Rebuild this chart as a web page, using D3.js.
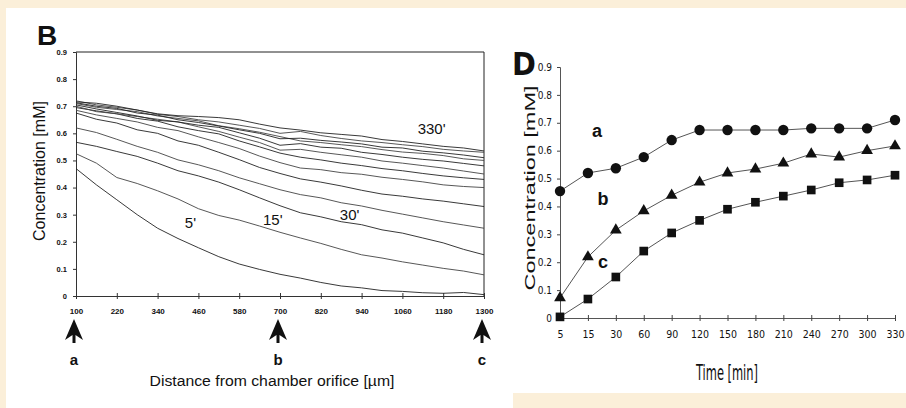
<!DOCTYPE html>
<html>
<head>
<meta charset="utf-8">
<script src="https://cdn.jsdelivr.net/npm/d3@7"></script>
<style>
  body { margin: 0; background: #fbefd9; }
  svg { display: block; }
  text { font-family: 'Liberation Sans', Arial, sans-serif; fill: #111; }
  text.narrow { font-family: 'Liberation Sans Narrow', 'DejaVu Sans Condensed', sans-serif; }
</style>
</head>
<body>
<div id="chart"></div>
<script>
// ---- panel B: concentration profiles along the chamber ----
let distances = [100, 160, 220, 280, 340, 400, 460, 520, 580, 640, 700,
  760, 820, 880, 940, 1000, 1060, 1120, 1180, 1240, 1300]
let distTicks = [100, 220, 340, 460, 580, 700, 820, 940, 1060, 1180, 1300]
let concTicks = [0, 0.1, 0.2, 0.3, 0.4, 0.5, 0.6, 0.7, 0.8, 0.9]

let profile5 = [0.47, 0.41, 0.355, 0.30, 0.25, 0.212, 0.178, 0.145, 0.118, 0.098, 0.08, 0.066, 0.05, 0.037, 0.03, 0.02, 0.017, 0.012, 0.01, 0.013, 0.005]
let profile15 = [0.525, 0.49, 0.437, 0.415, 0.388, 0.358, 0.322, 0.297, 0.28, 0.258, 0.235, 0.214, 0.194, 0.172, 0.152, 0.14, 0.126, 0.114, 0.102, 0.092, 0.078]
let profile30 = [0.567, 0.552, 0.533, 0.515, 0.49, 0.462, 0.443, 0.42, 0.392, 0.362, 0.333, 0.307, 0.292, 0.274, 0.263, 0.244, 0.232, 0.214, 0.196, 0.172, 0.152]
let profile60 = [0.62, 0.603, 0.578, 0.552, 0.53, 0.502, 0.484, 0.462, 0.436, 0.414, 0.392, 0.374, 0.362, 0.344, 0.332, 0.316, 0.302, 0.288, 0.274, 0.262, 0.25]
let profile90 = [0.675, 0.652, 0.638, 0.613, 0.6, 0.572, 0.556, 0.53, 0.503, 0.474, 0.452, 0.432, 0.42, 0.406, 0.39, 0.376, 0.368, 0.358, 0.35, 0.34, 0.33]
let profile120 = [0.685, 0.668, 0.655, 0.642, 0.622, 0.61, 0.587, 0.566, 0.544, 0.516, 0.492, 0.472, 0.466, 0.455, 0.449, 0.438, 0.43, 0.421, 0.41, 0.404, 0.40]
let profile150 = [0.695, 0.683, 0.672, 0.655, 0.645, 0.624, 0.61, 0.598, 0.572, 0.55, 0.527, 0.512, 0.502, 0.49, 0.481, 0.47, 0.462, 0.452, 0.443, 0.436, 0.43]
let profile180 = [0.70, 0.68, 0.672, 0.662, 0.652, 0.642, 0.624, 0.607, 0.586, 0.566, 0.538, 0.541, 0.53, 0.521, 0.512, 0.498, 0.49, 0.481, 0.472, 0.461, 0.45]
let profile210 = [0.705, 0.69, 0.677, 0.664, 0.648, 0.642, 0.63, 0.622, 0.602, 0.582, 0.556, 0.562, 0.549, 0.545, 0.53, 0.522, 0.512, 0.504, 0.498, 0.489, 0.48]
let profile240 = [0.71, 0.696, 0.688, 0.68, 0.664, 0.655, 0.646, 0.628, 0.617, 0.604, 0.588, 0.572, 0.566, 0.558, 0.551, 0.54, 0.531, 0.526, 0.518, 0.506, 0.50]
let profile270 = [0.713, 0.70, 0.692, 0.675, 0.667, 0.65, 0.64, 0.627, 0.613, 0.60, 0.58, 0.582, 0.574, 0.568, 0.561, 0.549, 0.546, 0.534, 0.528, 0.52, 0.51]
let profile300 = [0.72, 0.705, 0.696, 0.686, 0.67, 0.662, 0.65, 0.642, 0.63, 0.618, 0.60, 0.607, 0.592, 0.581, 0.572, 0.566, 0.558, 0.551, 0.541, 0.535, 0.53]
let profile330 = [0.716, 0.711, 0.70, 0.686, 0.672, 0.665, 0.662, 0.658, 0.65, 0.634, 0.62, 0.612, 0.602, 0.596, 0.59, 0.577, 0.57, 0.561, 0.552, 0.546, 0.535]

let profiles = [profile5, profile15, profile30, profile60, profile90, profile120,
  profile150, profile180, profile210, profile240, profile270, profile300, profile330]

// curve labels: text, distance, concentration where the label sits
let curveLabels = [
  { text: "5'", d: 420, c: 0.25 },
  { text: "15'", d: 650, c: 0.262 },
  { text: "30'", d: 876, c: 0.28 },
  { text: "330'", d: 1105, c: 0.598 }
]
let markedSites = [{ d: 100, name: 'a' }, { d: 700, name: 'b' }, { d: 1300, name: 'c' }]

// ---- panel D: concentration at sites a, b, c over time ----
let times = ['5', '15', '30', '60', '90', '120', '150', '180', '210', '240', '270', '300', '330']
let siteA = [0.455, 0.52, 0.537, 0.577, 0.638, 0.674, 0.674, 0.674, 0.674, 0.68, 0.68, 0.68, 0.71]
let siteB = [0.072, 0.219, 0.315, 0.384, 0.44, 0.487, 0.52, 0.534, 0.555, 0.588, 0.577, 0.60, 0.617]
let siteC = [0.004, 0.068, 0.147, 0.24, 0.305, 0.35, 0.39, 0.415, 0.437, 0.459, 0.485, 0.495, 0.512]

let svg = d3.select('#chart').append('svg')
  .attr('width', 906)
  .attr('height', 408)

svg.append('rect').attr('width', 906).attr('height', 408).attr('fill', '#fbefd9')
svg.append('rect').attr('x', 6).attr('y', 8).attr('width', 900).attr('height', 400).attr('fill', '#fff')
svg.append('rect').attr('x', 513).attr('y', 393).attr('width', 393).attr('height', 15).attr('fill', '#fbefd9')

// ===== Panel B =====
let xB = d3.scaleLinear().domain([100, 1300]).range([76, 484])
let yB = d3.scaleLinear().domain([0, 0.9]).range([296, 52])

let gB = svg.append('g')

// frame top + right
gB.append('line').attr('x1', xB(100)).attr('x2', xB(1300)).attr('y1', yB(0.9)).attr('y2', yB(0.9))
  .attr('stroke', '#222').attr('stroke-width', 1)
gB.append('line').attr('x1', xB(1300)).attr('x2', xB(1300)).attr('y1', yB(0.9)).attr('y2', yB(0))
  .attr('stroke', '#222').attr('stroke-width', 1)

let xAxisB = d3.axisBottom(xB).tickValues(distTicks).tickSize(0).tickPadding(0)
  .tickFormat(d3.format('d'))
gB.append('g')
  .attr('transform', 'translate(0,' + yB(0) + ')')
  .call(xAxisB)
  .call(g => g.select('.domain').attr('stroke', '#333'))
  .call(g => g.selectAll('.tick').append('line').attr('y1', -3).attr('y2', 3).attr('stroke', '#333'))
  .call(g => g.selectAll('.tick text').attr('y', 18).attr('dy', 0)
    .attr('font-size', 8).attr('font-weight', 'bold').attr('fill', '#111'))

let yAxisB = d3.axisLeft(yB).tickValues(concTicks).tickSize(3).tickPadding(6)
  .tickFormat(d => d === 0 ? '0' : d3.format('.1f')(d))
gB.append('g')
  .attr('transform', 'translate(' + xB(100) + ',0)')
  .call(yAxisB)
  .call(g => g.select('.domain').attr('stroke', '#333'))
  .call(g => g.selectAll('.tick line').attr('stroke', '#333'))
  .call(g => g.selectAll('.tick text').attr('font-size', 7.5).attr('font-weight', 'bold').attr('fill', '#111'))

let lineB = d3.line()
  .x((d, i) => xB(distances[i]))
  .y(d => yB(d))

gB.selectAll('.profile')
  .data(profiles)
  .enter()
  .append('path')
  .attr('class', 'profile')
  .attr('d', d => lineB(d))
  .attr('fill', 'none')
  .attr('stroke', (d, i) => i % 2 ? '#444' : '#222')
  .attr('stroke-width', 0.9)

gB.selectAll('.curve-label')
  .data(curveLabels)
  .enter()
  .append('text')
  .attr('x', d => xB(d.d))
  .attr('y', d => yB(d.c))
  .attr('font-size', 15)
  .text(d => d.text)

// arrows under sites a, b, c
let arrowPath = 'M0,0 L9,21 L1.5,16 L1.5,24 L-1.5,24 L-1.5,16 L-9,21 Z'
let sites = gB.selectAll('.site')
  .data(markedSites)
  .enter()
  .append('g')
  .attr('transform', d => 'translate(' + (xB(d.d) - 2) + ',319)')
sites.append('path').attr('d', arrowPath).attr('fill', '#111')
sites.append('text')
  .attr('y', 46)
  .attr('text-anchor', 'middle')
  .attr('font-size', 15)
  .attr('font-weight', 'bold')
  .text(d => d.name)

gB.append('text')
  .attr('x', 37).attr('y', 45)
  .attr('font-size', 28).attr('font-weight', 'bold')
  .text('B')

gB.append('text')
  .attr('transform', 'translate(45,171) rotate(-90)')
  .attr('text-anchor', 'middle')
  .attr('font-size', 17)
  .attr('textLength', 140)
  .attr('lengthAdjust', 'spacingAndGlyphs')
  .text('Concentration [mM]')

gB.append('text')
  .attr('x', 272).attr('y', 386)
  .attr('text-anchor', 'middle')
  .attr('font-size', 14)
  .attr('textLength', 245)
  .attr('lengthAdjust', 'spacingAndGlyphs')
  .text('Distance from chamber orifice [µm]')

// ===== Panel D =====
let xD = d3.scalePoint().domain(times).range([560, 895])
let yD = d3.scaleLinear().domain([0, 0.9]).range([318, 67])

let gD = svg.append('g')

gD.append('g')
  .attr('transform', 'translate(0,' + yD(0) + ')')
  .call(d3.axisBottom(xD).tickSize(0).tickPadding(0))
  .call(g => g.select('.domain').attr('stroke', '#555'))
  .call(g => g.selectAll('.tick').append('line').attr('y1', -3).attr('y2', 3).attr('stroke', '#444'))
  .call(g => g.selectAll('.tick text').attr('class', 'narrow').attr('y', 20).attr('dy', 0)
    .attr('font-size', 10.5).attr('fill', '#111'))

gD.append('g')
  .attr('transform', 'translate(' + xD('5') + ',0)')
  .call(d3.axisLeft(yD).tickValues(concTicks).tickSize(3).tickPadding(5)
    .tickFormat(d => d === 0 ? '0' : d3.format('.1f')(d)))
  .call(g => g.select('.domain').attr('stroke', '#555'))
  .call(g => g.selectAll('.tick line').attr('stroke', '#444'))
  .call(g => g.selectAll('.tick text').attr('class', 'narrow').attr('font-size', 10).attr('fill', '#111'))

let lineD = d3.line()
  .x((d, i) => xD(times[i]))
  .y(d => yD(d))

let seriesD = [
  { values: siteA, symbol: d3.symbolCircle, size: 85 },
  { values: siteB, symbol: d3.symbolTriangle, size: 60 },
  { values: siteC, symbol: d3.symbolSquare, size: 75 }
]

seriesD.forEach(s => {
  gD.append('path')
    .attr('d', lineD(s.values))
    .attr('fill', 'none')
    .attr('stroke', '#555')
    .attr('stroke-width', 1)
  gD.selectAll(null)
    .data(s.values)
    .enter()
    .append('path')
    .attr('transform', (d, i) => 'translate(' + xD(times[i]) + ',' + yD(d) + ')')
    .attr('d', d3.symbol().type(s.symbol).size(s.size))
    .attr('fill', '#111')
})

gD.append('text').attr('x', 597).attr('y', 137).attr('text-anchor', 'middle')
  .attr('font-size', 18).attr('font-weight', 'bold').text('a')
gD.append('text').attr('x', 603).attr('y', 205).attr('text-anchor', 'middle')
  .attr('font-size', 18).attr('font-weight', 'bold').text('b')
gD.append('text').attr('x', 603).attr('y', 268).attr('text-anchor', 'middle')
  .attr('font-size', 18).attr('font-weight', 'bold').text('c')

gD.append('text').attr('class', 'narrow')
  .attr('x', 512).attr('y', 75)
  .attr('font-size', 32).attr('font-weight', 'bold')
  .text('D')

gD.append('text')
  .attr('transform', 'translate(535,188) rotate(-90)')
  .attr('text-anchor', 'middle')
  .attr('font-size', 15)
  .attr('textLength', 205)
  .attr('lengthAdjust', 'spacingAndGlyphs')
  .text('Concentration [mM]')

gD.append('text').attr('class', 'narrow')
  .attr('x', 727).attr('y', 380)
  .attr('text-anchor', 'middle')
  .attr('font-size', 21)
  .attr('textLength', 62)
  .attr('lengthAdjust', 'spacingAndGlyphs')
  .text('Time [min]')
</script>
</body>
</html>
